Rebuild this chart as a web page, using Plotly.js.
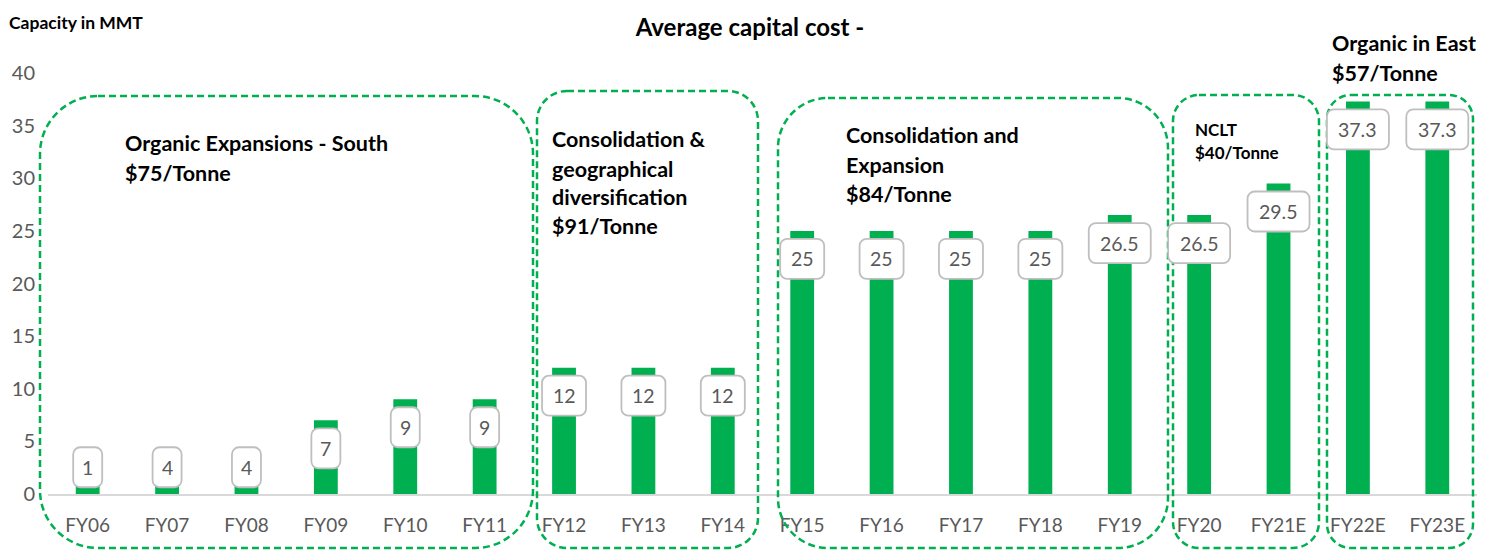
<!DOCTYPE html>
<html><head><meta charset="utf-8">
<script src="https://cdn.plot.ly/plotly-3.0.1.min.js"></script>
<style>html,body{margin:0;padding:0;background:#fff}#chart{width:1494px;height:550px}</style>
</head><body><div id="chart"></div>
<script>
const categories = ['FY06','FY07','FY08','FY09','FY10','FY11','FY12','FY13','FY14','FY15','FY16','FY17','FY18','FY19','FY20','FY21E','FY22E','FY23E'];
const capacity = [1,4,4,7,9,9,12,12,12,25,25,25,25,26.5,26.5,29.5,37.3,37.3];
const valueLabels = ['1','4','4','7','9','9','12','12','12','25','25','25','25','26.5','26.5','29.5','37.3','37.3'];
const yTicks = [0,5,10,15,20,25,30,35,40];
const groupTexts = [
  ['Organic Expansions - South','$75/Tonne'],
  ['Consolidation &','geographical','diversification','$91/Tonne'],
  ['Consolidation and','Expansion','$84/Tonne'],
  ['NCLT','$40/Tonne'],
  ['Organic in East','$57/Tonne']
];
const chartTitle = 'Average capital cost -';
const yTitle = 'Capacity in MMT';

// ---- layout geometry (styling only) ----
const W = 1494, H = 550, M = {l:48, r:17, t:73, b:56};
const PW = W - M.l - M.r, PH = H - M.t - M.b;
const px = x => (x - M.l) / PW;
const py = y => (H - M.b - y) / PH;
const FONT = 'Lato, "Open Sans", sans-serif';
const GREEN = '#00B050', GREY = '#595959';

function roundRectPaper(x0, y0, x1, y1, r) {
  const k = 0.5523 * r;
  const P = (x, y) => px(x).toFixed(5) + ',' + py(y).toFixed(5);
  return 'M' + P(x0 + r, y0) + ' L' + P(x1 - r, y0) +
    ' C' + P(x1 - r + k, y0) + ' ' + P(x1, y0 + r - k) + ' ' + P(x1, y0 + r) +
    ' L' + P(x1, y1 - r) +
    ' C' + P(x1, y1 - r + k) + ' ' + P(x1 - r + k, y1) + ' ' + P(x1 - r, y1) +
    ' L' + P(x0 + r, y1) +
    ' C' + P(x0 + r - k, y1) + ' ' + P(x0, y1 - r + k) + ' ' + P(x0, y1 - r) +
    ' L' + P(x0, y0 + r) +
    ' C' + P(x0, y0 + r - k) + ' ' + P(x0 + r - k, y0) + ' ' + P(x0 + r, y0) + ' Z';
}
function roundRectPix(cx, cy, w, h, r) {
  // pixel offsets, y positive up
  const x0 = cx - w/2, x1 = cx + w/2, y0 = cy + h/2, y1 = cy - h/2;
  const k = 0.5523 * r;
  const P = (x, y) => x.toFixed(2) + ',' + y.toFixed(2);
  return 'M' + P(x0 + r, y0) + ' L' + P(x1 - r, y0) +
    ' C' + P(x1 - r + k, y0) + ' ' + P(x1, y0 - r + k) + ' ' + P(x1, y0 - r) +
    ' L' + P(x1, y1 + r) +
    ' C' + P(x1, y1 + r - k) + ' ' + P(x1 - r + k, y1) + ' ' + P(x1 - r, y1) +
    ' L' + P(x0 + r, y1) +
    ' C' + P(x0 + r - k, y1) + ' ' + P(x0, y1 + r - k) + ' ' + P(x0, y1 + r) +
    ' L' + P(x0, y0 - r) +
    ' C' + P(x0, y0 - r + k) + ' ' + P(x0 + r - k, y0) + ' ' + P(x0 + r, y0) + ' Z';
}

const xIdx = categories.map((_, i) => i);

const shapes = [];
const annotations = [];

// group dashed boxes (pixel rectangles of the decoration)
const groupBoxes = [
  {rect:[40, 96, 533, 548], r:58},
  {rect:[537, 91, 758, 548], r:30},
  {rect:[778, 98, 1168, 548], r:50},
  {rect:[1173, 95, 1319, 548], r:26},
  {rect:[1327, 95, 1473, 548], r:24}
];
groupBoxes.forEach(b => {
  shapes.push({type:'path', xref:'paper', yref:'paper', layer:'above',
    path: roundRectPaper(b.rect[0], b.rect[1], b.rect[2], b.rect[3], b.r),
    line:{color:GREEN, width:2.5, dash:'7px,4px'}, fillcolor:'rgba(0,0,0,0)'});
});

// value label callouts
const LABEL_SHIFT = -28;
capacity.forEach((v, i) => {
  const txt = valueLabels[i];
  const digits = txt.replace('.', '').length, dots = txt.length - digits;
  const w = 14 + 15 * digits + 3 * dots;
  const anchorY = Math.max(v, 5.2);
  shapes.push({type:'path', xref:'x', yref:'y', xsizemode:'pixel', ysizemode:'pixel',
    xanchor: i, yanchor: anchorY, layer:'above',
    path: roundRectPix(0, LABEL_SHIFT, w, 40, 7),
    fillcolor:'#FFFFFF', line:{color:'#BFBFBF', width:1.8}});
  annotations.push({x:i, y:anchorY, xref:'x', yref:'y', yshift:LABEL_SHIFT, showarrow:false,
    text: txt, xanchor:'center', yanchor:'middle',
    font:{family:FONT, size:19.5, color:GREY}});
});

// group texts
const groupTextPos = [
  {x:123, y:[143, 173], size:21.5},
  {x:550, y:[139, 169, 197, 226], size:21.5},
  {x:844, y:[135, 165, 194], size:21.5},
  {x:1193, y:[129, 152], size:17},
  {x:1330, y:[43, 73], size:21.5}
];
groupTexts.forEach((lines, g) => {
  lines.forEach((t, j) => {
    annotations.push({xref:'paper', yref:'paper', x:px(groupTextPos[g].x), y:py(groupTextPos[g].y[j]),
      xanchor:'left', yanchor:'middle', showarrow:false, text:'<b>' + t + '</b>',
      font:{family:FONT, size:groupTextPos[g].size, color:'#000000'}});
  });
});

// y title
annotations.push({xref:'paper', yref:'paper', x:px(7), y:py(22), xanchor:'left', yanchor:'middle',
  showarrow:false, text:'<b>' + yTitle + '</b>', font:{family:FONT, size:17.5, color:'#000000'}});

const data = [{
  type:'bar', x:xIdx, y:capacity, width:0.3,
  marker:{color:GREEN}, hoverinfo:'x+y'
}];

const layout = {
  width:W, height:H, margin:M,
  paper_bgcolor:'#FFFFFF', plot_bgcolor:'#FFFFFF',
  showlegend:false,
  title:{text:'<b>' + chartTitle + '</b>', x:0.502, xanchor:'center', y:1 - 28/H, yanchor:'middle',
    font:{family:FONT, size:24, color:'#000000'}},
  xaxis:{type:'linear', range:[-0.5, 17.5], tickvals:xIdx, ticktext:categories,
    showgrid:false, zeroline:false, showline:true, linecolor:'#D9D9D9', linewidth:1.5,
    ticks:'', ticklabelstandoff:14, tickfont:{family:FONT, size:19, color:GREY}, fixedrange:true},
  yaxis:{range:[0, 40], tickvals:yTicks, showgrid:false, zeroline:false, showline:false,
    ticks:'', ticklabelstandoff:12, tickfont:{family:FONT, size:20, color:GREY}, fixedrange:true},
  shapes:shapes, annotations:annotations
};

Plotly.newPlot('chart', data, layout, {displayModeBar:false, staticPlot:true});
</script>
</body></html>
